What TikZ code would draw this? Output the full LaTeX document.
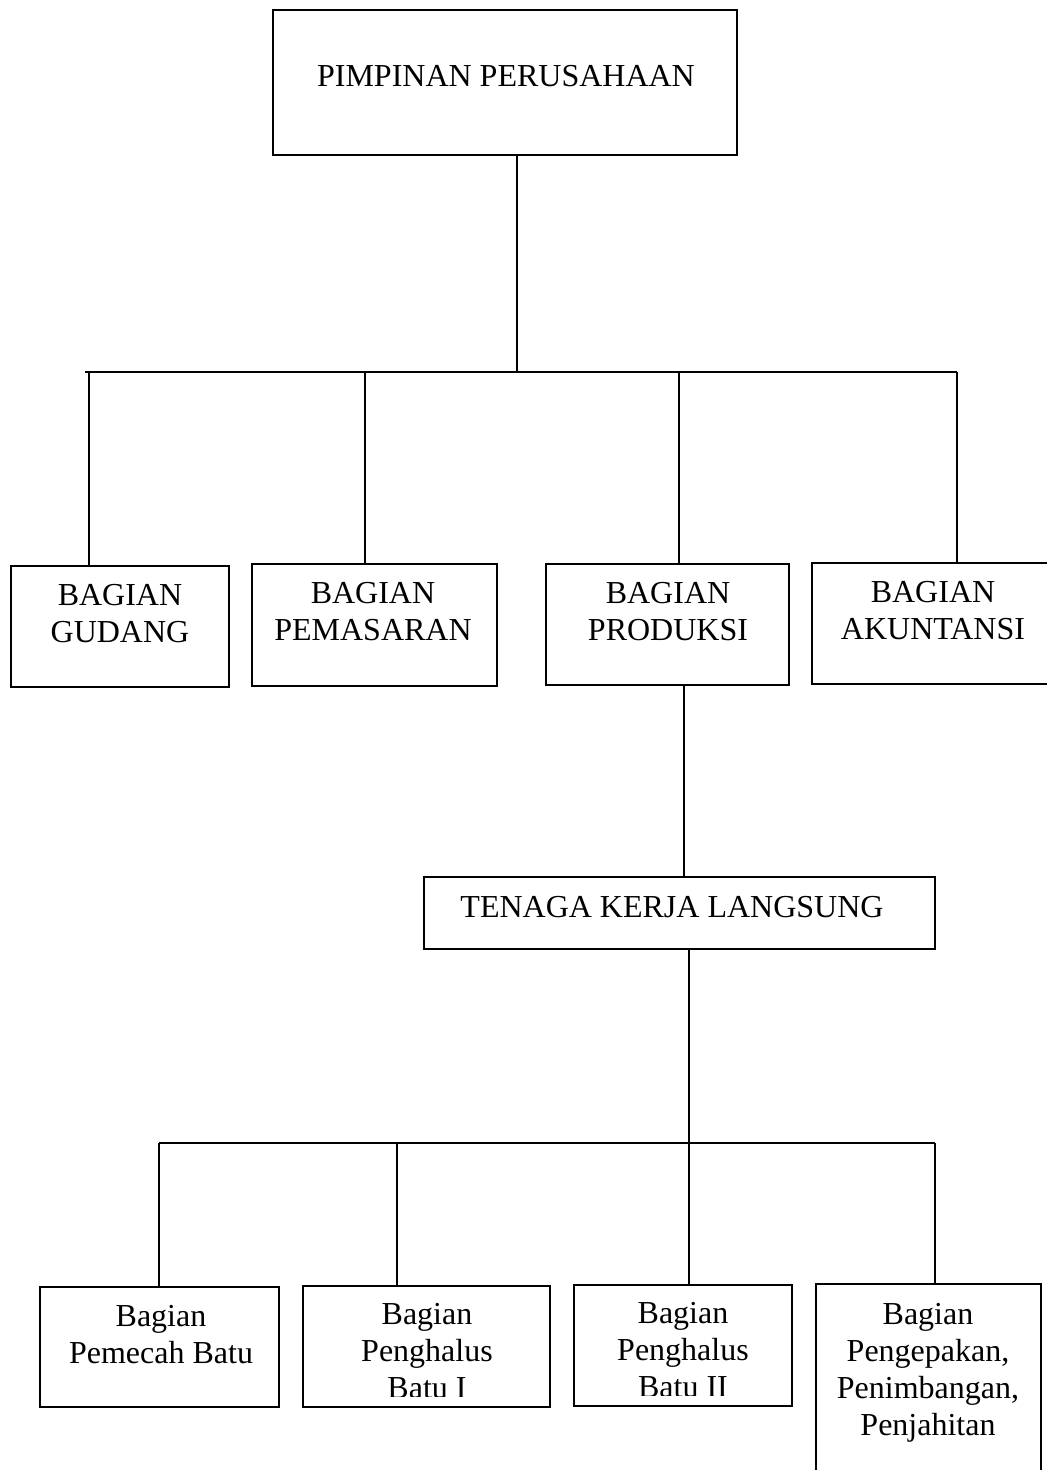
\documentclass[tikz,border=0pt]{standalone}
\usepackage{fontspec}
\setmainfont{Liberation Serif}
\begin{document}
\begin{tikzpicture}[x=0.5pt,y=-0.5pt,
  box/.style={draw, line width=1pt, inner sep=0pt},
  lbl/.style={anchor=north, inner sep=0pt, align=center, font=\fontsize{16}{18.5}\selectfont},
  conn/.style={line width=1pt}]
\clip (0,0) rectangle (1047,1470);
\fill[white] (0,0) rectangle (1047,1470);

% boxes
\node[box, minimum width=232pt, minimum height=72.5pt] (top) at (505,82.5) {};
\node[box, minimum width=109pt, minimum height=60.5pt] (gud) at (120,626.5) {};
\node[box, minimum width=122.5pt, minimum height=61pt] (pem) at (374.5,625) {};
\node[box, minimum width=121.5pt, minimum height=60.5pt] (pro) at (667.5,624.5) {};
\node[box, minimum width=121pt, minimum height=60.5pt] (aku) at (933,623.5) {};
\node[box, minimum width=255.5pt, minimum height=36pt] (ten) at (679.5,913) {};
\node[box, minimum width=119.5pt, minimum height=60pt] (b1) at (159.5,1347) {};
\node[box, minimum width=123.5pt, minimum height=60.5pt] (b2) at (426.5,1346.5) {};
\node[box, minimum width=109pt, minimum height=60.5pt] (b3) at (683,1345.5) {};
\node[box, minimum width=112.5pt, minimum height=118pt] (b4) at (928.5,1402) {};

% labels
\node[lbl] (ttop) at (506,65) {PIMPINAN PERUSAHAAN};
\node[lbl] (tgud) at (120,584) {BAGIAN\\GUDANG};
\node[lbl] (tpem) at (373,582) {BAGIAN\\PEMASARAN};
\node[lbl] (tpro) at (668,582) {BAGIAN\\PRODUKSI};
\node[lbl] (taku) at (933,581) {BAGIAN\\AKUNTANSI};
\node[lbl] (tten) at (672,896) {TENAGA KERJA LANGSUNG};
\node[lbl] (tb1) at (161,1305) {Bagian\\Pemecah Batu};
\begin{scope}
  \clip (b2.north west) rectangle ([yshift=6pt]b2.south east);
  \node[lbl] (tb2) at (427,1303) {Bagian\\Penghalus\\Batu I};
\end{scope}
\begin{scope}
  \clip (b3.north west) rectangle ([yshift=6pt]b3.south east);
  \node[lbl] (tb3) at (683,1302) {Bagian\\Penghalus\\Batu II};
\end{scope}
\node[lbl] (tb4) at (928,1303) {Bagian\\Pengepakan,\\Penimbangan,\\Penjahitan};

% upper connectors
\coordinate (j1) at (517,372);
\coordinate (bL) at (85,372);
\coordinate (bR) at (957,372);
\coordinate (d1) at (89,372);
\coordinate (d2) at (365,372);
\coordinate (d3) at (679,372);
\draw[conn] (j1 |- top.south) -- (j1);
\draw[conn] (bL) -- (bR);
\draw[conn] (d1) -- (d1 |- gud.north);
\draw[conn] (d2) -- (d2 |- pem.north);
\draw[conn] (d3) -- (d3 |- pro.north);
\draw[conn] (bR) -- (bR |- aku.north);

% produksi to tenaga
\coordinate (j2) at (684,0);
\draw[conn] (j2 |- pro.south) -- (j2 |- ten.north);

% lower connectors
\coordinate (j3) at (689,1143);
\coordinate (cL) at (159,1143);
\coordinate (cR) at (935,1143);
\coordinate (e2) at (397,1143);
\draw[conn] (j3 |- ten.south) -- (j3);
\draw[conn] (cL) -- (cR);
\draw[conn] (cL) -- (cL |- b1.north);
\draw[conn] (e2) -- (e2 |- b2.north);
\draw[conn] (j3) -- (j3 |- b3.north);
\draw[conn] (cR) -- (cR |- b4.north);
\end{tikzpicture}
\end{document}
